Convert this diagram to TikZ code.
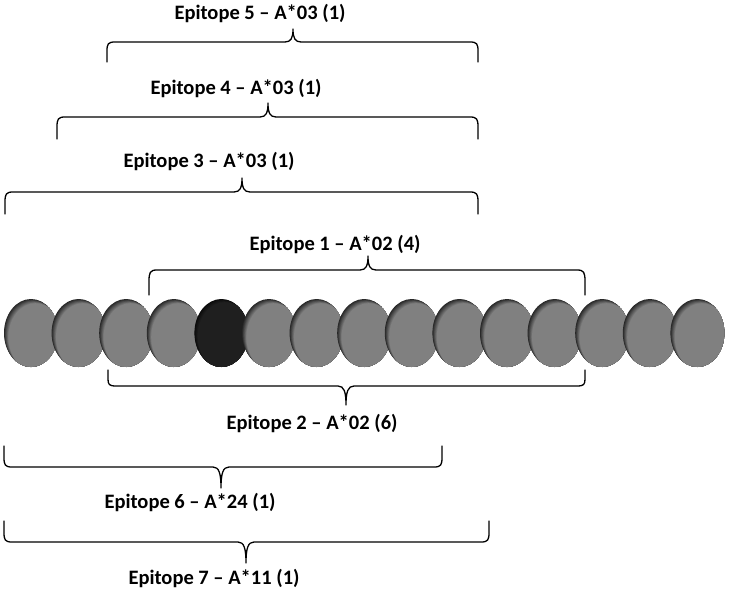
\documentclass[tikz,border=0pt]{standalone}
\usepackage{fontspec}
\setmainfont{Carlito}
\usetikzlibrary{shapes.geometric}
\newcommand\epbrace[6]{% x1, x2, xm, yline, yend, ytip
  \draw[bracestyle] (#1,#5) -- (#1,{#4+0.45*(#5-#4)})
    .. controls (#1,{#4+0.1*(#5-#4)}) and (#1+1,#4) .. (#1+8,#4)
    -- (#3-8,#4) .. controls (#3-2,#4) and (#3,{#4+0.3*(#6-#4)}) .. (#3,#6)
    .. controls (#3,{#4+0.3*(#6-#4)}) and (#3+2,#4) .. (#3+8,#4)
    -- (#2-8,#4) .. controls (#2-1,#4) and (#2,{#4+0.1*(#5-#4)}) .. (#2,{#4+0.45*(#5-#4)})
    -- (#2,#5);}
\definecolor{beadedge}{gray}{0.15}
\definecolor{beadbase}{gray}{0.5}
\definecolor{darkedge}{gray}{0.04}
\definecolor{darkbase}{gray}{0.12}
\begin{document}
\begin{tikzpicture}[x=1pt,y=-1pt,
  bracestyle/.style={line width=1.3pt, line join=round, line cap=round},
  lbl/.style={font=\bfseries\fontsize{20.5}{24}\selectfont, inner sep=0pt, anchor=center},
  bead/.style={ellipse, minimum width=54pt, minimum height=68pt, inner sep=0pt, fill=beadedge,
    path picture={
      \foreach \k in {1,...,8}{
        \pgfmathsetmacro\sh{0.55*\k}
        \pgfmathsetmacro\pc{100*\k/8}
        \fill[beadbase!\pc!beadedge] ([shift={(\sh,0.95*\sh)}]path picture bounding box.center) ellipse [x radius=27, y radius=34];
      }
    }},
  darkbead/.style={ellipse, minimum width=54pt, minimum height=68pt, inner sep=0pt, fill=darkedge,
    path picture={
      \foreach \k in {1,...,6}{
        \pgfmathsetmacro\sh{0.55*\k}
        \pgfmathsetmacro\pc{100*\k/6}
        \fill[darkbase!\pc!darkedge] ([shift={(\sh,0.95*\sh)}]path picture bounding box.center) ellipse [x radius=27, y radius=34];
      }
    }}]
\useasboundingbox (0,0) rectangle (729,591);
\fill[white] (0,0) rectangle (729,591);
% beads
\foreach \i in {1,...,15}{
  \pgfmathsetmacro\cx{31+47.6*(\i-1)}
  \ifnum\i=5
    \node[darkbead] (e\i) at (\cx,333) {};
  \else
    \node[bead] (e\i) at (\cx,333) {};
  \fi
}
% braces above
\epbrace{107}{478}{293}{42}{62}{29}
\epbrace{57}{478}{268}{117}{139}{103}
\epbrace{5}{478}{242}{192}{214}{178}
\epbrace{149}{585}{368}{270}{295}{256}
% braces below
\epbrace{108}{585}{346}{386}{370}{405}
\epbrace{4}{442}{221}{467}{446}{488}
\epbrace{4}{489}{246}{542}{521}{563}
% labels
\node[lbl] (t5) at (260,14) {Epitope 5 – A*03 (1)};
\node[lbl] (t4) at (236,89) {Epitope 4 – A*03 (1)};
\node[lbl] (t3) at (209,162) {Epitope 3 – A*03 (1)};
\node[lbl] (t1) at (335,245) {Epitope 1 – A*02 (4)};
\node[lbl] (t2) at (312,424) {Epitope 2 – A*02 (6)};
\node[lbl] (t6) at (190,503) {Epitope 6 – A*24 (1)};
\node[lbl] (t7) at (214,579) {Epitope 7 – A*11 (1)};
\end{tikzpicture}
\end{document}
